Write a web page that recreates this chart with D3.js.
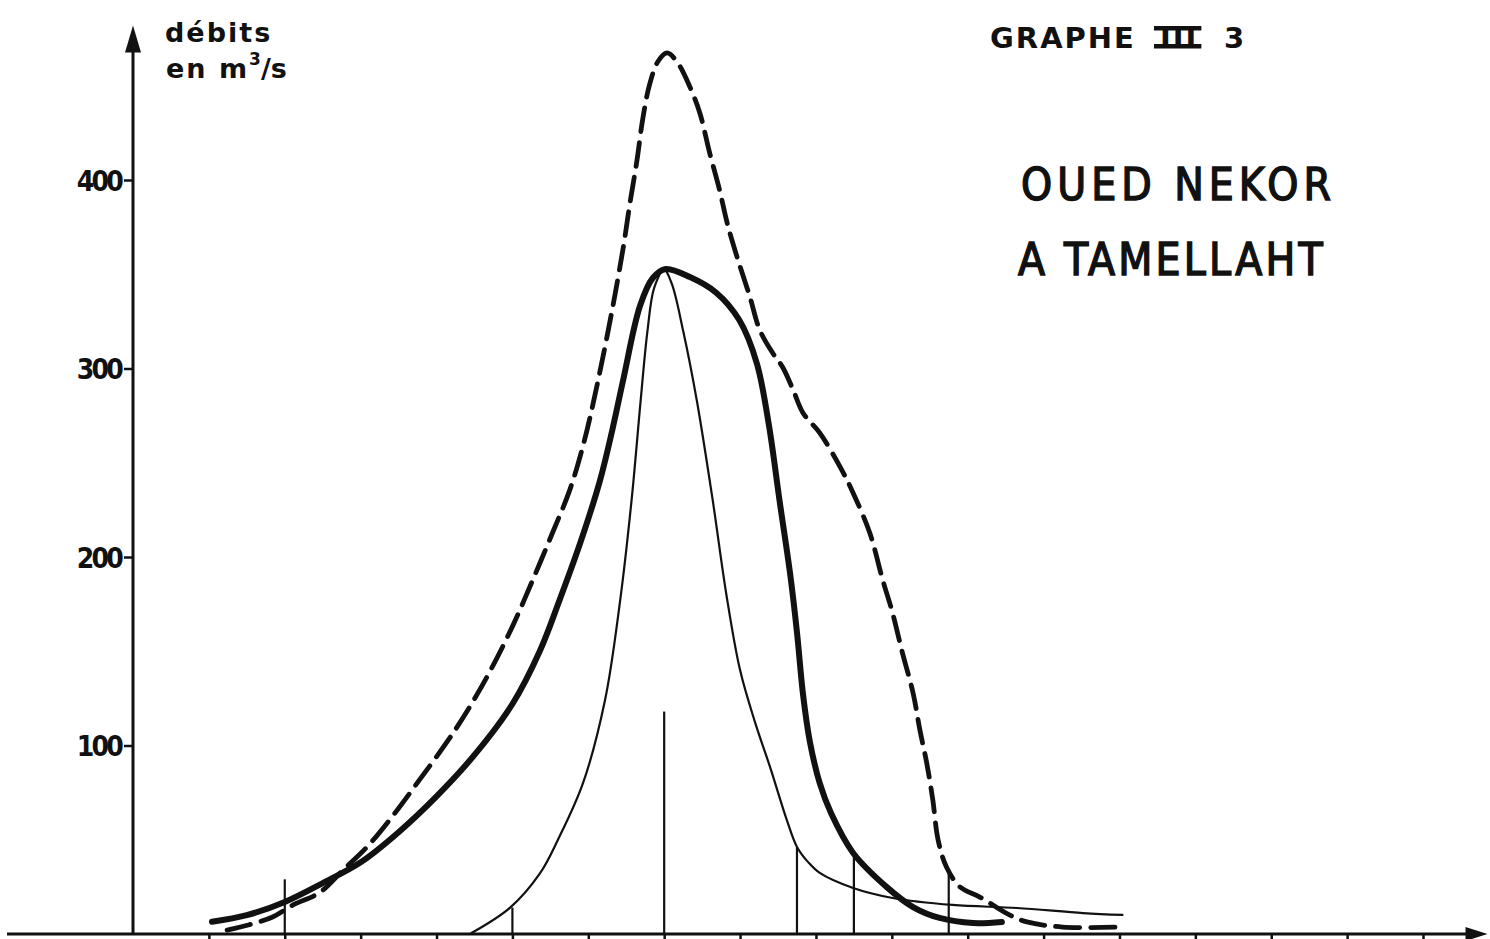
<!DOCTYPE html>
<html>
<head>
<meta charset="utf-8">
<script src="https://cdn.jsdelivr.net/npm/d3@7"></script>
<style>
  html, body { margin: 0; padding: 0; background: #fff; }
  svg { display: block; }
  text { fill: #111; font-family: "DejaVu Sans", sans-serif; }
</style>
</head>
<body>
<svg id="chart" width="1490" height="939"></svg>
<script>
// Time axis (graduations) and discharge ticks, m3/s
const timeTicks = d3.range(1, 18);
const debitTicks = [100, 200, 300, 400];

// Dashed hydrograph
const dashedT = [1.24, 1.52, 1.84, 2.11, 2.46, 2.77, 3.08, 3.43, 3.78, 4.14, 4.40, 4.70, 5.01, 5.27, 5.53, 5.76, 5.95, 6.12, 6.30, 6.46, 6.55, 6.64, 6.72, 6.81, 6.92, 7.04, 7.18, 7.34, 7.47, 7.60, 7.73, 7.83, 7.96, 8.13, 8.26, 8.43, 8.56, 8.70, 8.83, 9.05, 9.32, 9.49, 9.71, 9.88, 10.01, 10.14, 10.28, 10.37, 10.46, 10.54, 10.61, 10.72, 10.90, 11.16, 11.55, 11.78, 12.25, 13.00];
const dashedQ = [2.1, 4.8, 9.0, 15.4, 22, 34, 46, 63, 82, 102, 118, 139, 164, 188, 213, 236, 262, 292, 328, 364, 388, 410, 433, 451, 463, 467.4, 462, 449.3, 435.5, 414.3, 394.7, 377.2, 359.2, 337.9, 320.4, 308.2, 300.8, 288.6, 276.4, 265.8, 247.7, 234.0, 212.7, 187.8, 170.3, 149.1, 127.9, 108.2, 90.7, 71.1, 49.9, 35.5, 24.9, 19.6, 10.1, 6.4, 3.7, 3.7];

// Heavy solid hydrograph
const boldT = [1.04, 1.50, 2.00, 2.50, 3.00, 3.50, 4.00, 4.50, 5.00, 5.36, 5.62, 5.89, 6.15, 6.32, 6.46, 6.68, 6.85, 7.02, 7.34, 7.69, 7.99, 8.22, 8.38, 8.52, 8.66, 8.75, 8.83, 8.92, 9.05, 9.20, 9.49, 9.93, 10.28, 10.63, 11.07, 11.45];
const boldQ = [6.5, 10, 17, 27, 38, 54, 73, 95, 122, 150, 177, 207, 240, 268, 294, 333, 348, 352.8, 348.5, 340.1, 325.7, 302.9, 270, 230, 191, 160, 127, 102, 80, 64, 43, 25, 14.3, 8.5, 5.8, 6.4];

// Light solid hydrograph
const thinT = [4.46, 4.97, 5.36, 5.60, 5.93, 6.22, 6.42, 6.57, 6.69, 6.78, 6.87, 7.00, 7.10, 7.25, 7.43, 7.64, 7.82, 8.00, 8.20, 8.40, 8.62, 8.75, 8.90, 9.05, 9.49, 10.01, 10.80, 11.65, 12.52, 13.04];
const thinQ = [0.5, 14, 32, 50, 80, 124, 177, 230, 283, 320, 343, 352.5, 345, 320, 283, 230, 180, 140, 112, 88, 60, 46.2, 38, 32.4, 24.4, 19.1, 15.4, 13.8, 11.1, 10.1];

// Vertical marker lines (time, height)
const markT = [2, 5, 7, 8.75, 9.5, 10.75];
const markQ = [29, 14, 118, 46, 41, 32];

const svg = d3.select("#chart");
const x = d3.scaleLinear().domain([0, 17]).range([133, 1423]);
const y = d3.scaleLinear().domain([0, 400]).range([934, 180]);
const xStart = -1.66, xEnd = 17.85, yTop = 482;

const ink = "#111";

// ---- axes ----
const yAxis = svg.append("g")
  .attr("transform", `translate(${x(0)},0)`)
  .call(d3.axisLeft(y).tickValues(debitTicks).tickSize(9).tickSizeOuter(0).tickPadding(3));
yAxis.select(".domain").remove();
yAxis.selectAll(".tick line").attr("stroke", ink).attr("stroke-width", 2.5);
yAxis.selectAll(".tick text")
  .attr("fill", ink)
  .style("font-family", "'DejaVu Sans Condensed','DejaVu Sans',sans-serif")
  .style("font-stretch", "condensed")
  .style("font-weight", "bold")
  .style("font-size", "28px")
  .style("letter-spacing", "-2.8px")
  .attr("dy", "0.36em");

svg.append("line")
  .attr("x1", x(0)).attr("x2", x(0))
  .attr("y1", y(0)).attr("y2", y(yTop) + 20)
  .attr("stroke", ink).attr("stroke-width", 3);
svg.append("path")
  .attr("d", `M${x(0)},${y(yTop)} L${x(0) - 8},${y(yTop) + 27} L${x(0) + 8},${y(yTop) + 27} Z`)
  .attr("fill", ink);

const xAxis = svg.append("g")
  .attr("transform", `translate(0,${y(0)})`)
  .call(d3.axisBottom(x).tickValues(timeTicks).tickSize(8).tickSizeOuter(0).tickFormat(""));
xAxis.select(".domain").remove();
xAxis.selectAll(".tick line").attr("stroke", ink).attr("stroke-width", 2.5);

svg.append("line")
  .attr("x1", x(xStart)).attr("x2", x(xEnd) - 10)
  .attr("y1", y(0)).attr("y2", y(0))
  .attr("stroke", ink).attr("stroke-width", 3);
svg.append("path")
  .attr("d", `M${x(xEnd)},${y(0)} L${x(xEnd) - 22},${y(0) - 7} L${x(xEnd) - 22},${y(0) + 7} Z`)
  .attr("fill", ink);

// ---- vertical marker lines ----
svg.append("g").selectAll("line")
  .data(markT.map((t, i) => ({ t, q: markQ[i] })))
  .join("line")
  .attr("x1", d => x(d.t)).attr("x2", d => x(d.t))
  .attr("y1", y(0)).attr("y2", d => y(d.q))
  .attr("stroke", ink).attr("stroke-width", 2.2);

// ---- hydrographs ----
const line = d3.line()
  .x(d => x(d[0]))
  .y(d => y(d[1]))
  .curve(d3.curveCatmullRom.alpha(0.5));

const zip = (a, b) => a.map((v, i) => [v, b[i]]);

svg.append("path")
  .attr("d", line(zip(thinT, thinQ)))
  .attr("fill", "none").attr("stroke", ink)
  .attr("stroke-width", 2.2).attr("stroke-linecap", "round").attr("stroke-linejoin", "round");

svg.append("path")
  .attr("d", line(zip(boldT, boldQ)))
  .attr("fill", "none").attr("stroke", ink)
  .attr("stroke-width", 6).attr("stroke-linecap", "round").attr("stroke-linejoin", "round");

svg.append("path")
  .attr("d", line(zip(dashedT, dashedQ)))
  .attr("fill", "none").attr("stroke", ink)
  .attr("stroke-width", 4.8).attr("stroke-linecap", "round")
  .attr("stroke-dasharray", "24,11");

// ---- texts ----
const unit = svg.append("g")
  .style("font-weight", "bold").style("font-size", "27px").style("letter-spacing", "2px");
unit.append("text").attr("x", 165).attr("y", 42).text("débits");
const en = unit.append("text").attr("x", 166).attr("y", 78);
en.append("tspan").text("en m");
en.append("tspan").attr("dy", -13).style("font-size", "17px").style("letter-spacing", "0px").text("3");
en.append("tspan").attr("dy", 13).style("letter-spacing", "0px").text("/s");

svg.append("text")
  .attr("x", 990).attr("y", 48)
  .style("font-weight", "bold").style("font-size", "29px").style("letter-spacing", "2px")
  .text("GRAPHE");

const roman = svg.append("text")
  .attr("x", 1160).attr("y", 48)
  .style("font-weight", "bold").style("font-size", "29px").style("letter-spacing", "2px")
  .text("III");
svg.append("text")
  .attr("x", 1224).attr("y", 48)
  .style("font-weight", "bold").style("font-size", "29px")
  .text("3");

// bars closing the roman numeral
const rn = roman.node();
const e0 = rn.getExtentOfChar(0), e2 = rn.getExtentOfChar(2);
const rx0 = e0.x - 6, rx1 = e2.x + e2.width - 2 + 5;
svg.append("rect").attr("x", rx0).attr("y", 26).attr("width", rx1 - rx0).attr("height", 4.5).attr("fill", ink);
svg.append("rect").attr("x", rx0).attr("y", 44).attr("width", rx1 - rx0).attr("height", 4.5).attr("fill", ink);

const place = svg.append("g")
  .style("font-family", "'DejaVu Sans Condensed','DejaVu Sans',sans-serif")
  .style("font-stretch", "condensed")
  .style("font-size", "44px")
  .attr("stroke", ink).attr("stroke-width", 1.4);
place.append("text")
  .attr("x", 1021).attr("y", 200)
  .style("letter-spacing", "5px")
  .text("OUED NEKOR");
place.append("text")
  .attr("x", 1018).attr("y", 275)
  .style("letter-spacing", "3.2px")
  .text("A TAMELLAHT");
</script>
</body>
</html>
